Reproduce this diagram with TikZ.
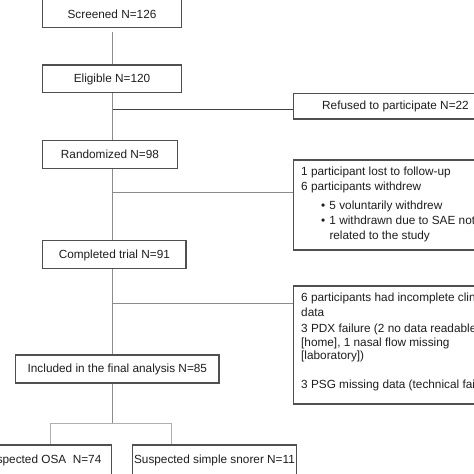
\documentclass[tikz,border=0pt]{standalone}
\usepackage{fontspec}
\setmainfont{Liberation Sans}
\definecolor{boxc}{HTML}{505050}
\definecolor{linec}{HTML}{8C8C8C}
\definecolor{darkl}{HTML}{404040}
\definecolor{txt}{HTML}{1E1E1E}
\begin{document}
\begin{tikzpicture}[x=1pt,y=-1pt,
  lbl/.style={text=txt, font=\fontsize{11.8}{14.5}\selectfont},
  box/.style={lbl, draw=boxc, line width=1.1pt, rectangle, inner sep=0pt, text height=8.5pt, text depth=1pt},
  txtline/.style={lbl, anchor=base west, inner sep=0pt},
  conn/.style={draw=linec, line width=1pt}]
\useasboundingbox (0,0) rectangle (474,474);
\fill[white] (0,0) rectangle (474,474);
\clip (0,0) rectangle (474,474);

% main column
\node[box, minimum width=138.6pt, anchor=south, text height=24.5pt, text depth=8.2pt] (scr) at (112,27.7) {Screened N=126};
\node[box, minimum width=138.6pt, minimum height=27.7pt] (elig) at (112,78.85) {Eligible N=120};
\node[box, minimum width=134.6pt, minimum height=28pt] (rand) at (110,154.3) {Randomized N=98};
\node[box, minimum width=143.3pt, minimum height=27.6pt] (comp) at (114.35,254.5) {Completed trial N=91};
\node[box, minimum width=203.3pt, minimum height=28pt] (incl) at (117.35,369) {Included in the final analysis N=85};
\node[box, minimum width=139.7pt, minimum height=29.5pt] (osa) at (41.85,459.75) {Suspected OSA\ \ N=74};
\node[box, minimum width=164.4pt, minimum height=29.5pt] (snr) at (214.5,459.75) {Suspected simple snorer N=11};

% side boxes
\node[box, minimum width=203.6pt, minimum height=25.7pt] (ref) at (395.5,106.15) {Refused to participate N=22};
\node[box, minimum width=203.6pt, minimum height=90pt] (wd) at (395.5,205) {};
\node[box, minimum width=203.6pt, minimum height=118pt] (inc) at (395.5,345) {};

% text of side boxes
\node[txtline] (w1) at (301,175.7) {1 participant lost to follow-up};
\node[txtline] (w2) at (301,190.9) {6 participants withdrew};
\node[txtline] (w3) at (321,209.7) {\makebox[8.3pt][l]{•}5 voluntarily withdrew};
\node[txtline] (w4) at (321,224.2) {\makebox[8.3pt][l]{•}1 withdrawn due to SAE not};
\node[txtline] (w5) at (329.3,239.2) {related to the study};

\node[txtline] (i1) at (301,301.8) {6 participants had incomplete clinical};
\node[txtline] (i2) at (301,316.3) {data};
\node[txtline] (i3) at (301,332.3) {3 PDX failure (2 no data readable};
\node[txtline] (i4) at (301,346.2) {[home], 1 nasal flow missing};
\node[txtline] (i5) at (301,359.8) {[laboratory])};
\node[txtline] (i6) at (301,388.5) {3 PSG missing data (technical failure)};

% spine
\coordinate (sp) at (112.8,0);
\draw[conn, shorten <=4pt] (scr.south) -- (elig.north);
\draw[conn] (elig.south -| sp) -- (rand.north -| sp);
\draw[conn] (rand.south -| sp) -- (comp.north -| sp);
\draw[conn] (comp.south -| sp) -- (incl.north -| sp);

% branches
\coordinate (b1) at (112.8,109);
\coordinate (b2) at (112.8,192);
\coordinate (b3) at (112.8,303);
\draw[conn, draw=darkl] (b1) -- (b1 -| ref.west);
\draw[conn] (b2) -- (b2 -| wd.west);
\draw[conn] (b3) -- (b3 -| inc.west);

% split
\coordinate (sj) at (112.8,423);
\coordinate (sl) at (50.7,423);
\coordinate (sr) at (171.7,423);
\draw[conn] (incl.south -| sp) -- (sj);
\draw[conn, draw=linec!70] (sl |- osa.north) -- (sl) -- (sr) -- (sr |- snr.north);
\end{tikzpicture}
\end{document}
